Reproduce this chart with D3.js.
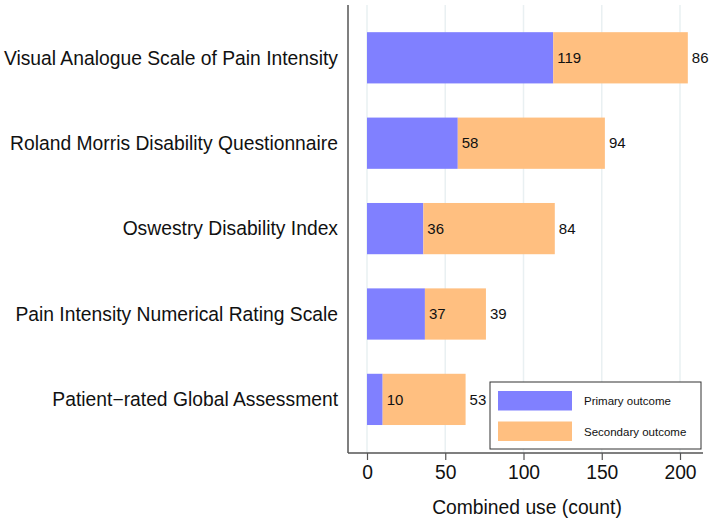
<!DOCTYPE html>
<html><head><meta charset="utf-8">
<script src="https://cdn.jsdelivr.net/npm/d3@7"></script>
<style>body{margin:0;background:#fff}svg{display:block}text{font-family:"Liberation Sans",Arial,sans-serif}</style>
</head><body><svg id="c" width="711" height="520"></svg>
<script>
const categories = ["Visual Analogue Scale of Pain Intensity","Roland Morris Disability Questionnaire","Oswestry Disability Index","Pain Intensity Numerical Rating Scale","Patient\u2212rated Global Assessment"];
const primary = [119,58,36,37,10];
const secondary = [86,94,84,39,53];
const xTicks = [0,50,100,150,200];
const seriesNames = ["Primary outcome","Secondary outcome"];
const colors = ["#8080ff","#ffbf80"];

const svg = d3.select("#c");
const x = d3.scaleLinear().domain([0,200]).range([367,680]);
const y = d3.scaleBand().domain(categories).range([15.1,442.1]).paddingInner(0.4).paddingOuter(0.2);
const pTop = 5, pBottom = 453, pLeft = 348, pRight = 703;

// gridlines
svg.append("g").selectAll("line").data(xTicks).join("line")
  .attr("x1",d=>x(d)).attr("x2",d=>x(d)).attr("y1",pTop).attr("y2",pBottom)
  .attr("stroke","#e9f0f2").attr("stroke-width",1.5);

// bars
const g = svg.append("g");
categories.forEach((c,i)=>{
  g.append("rect").attr("x",x(0)).attr("y",y(c)).attr("width",x(primary[i])-x(0)).attr("height",y.bandwidth()).attr("fill",colors[0]);
  g.append("rect").attr("x",x(primary[i])).attr("y",y(c)).attr("width",x(primary[i]+secondary[i])-x(primary[i])).attr("height",y.bandwidth()).attr("fill",colors[1]);
  g.append("text").attr("x",x(primary[i])+4).attr("y",y(c)+y.bandwidth()/2).attr("dy","0.35em").attr("font-size",15).attr("fill","#111").text(primary[i]);
  g.append("text").attr("x",x(primary[i]+secondary[i])+4).attr("y",y(c)+y.bandwidth()/2).attr("dy","0.35em").attr("font-size",15).attr("fill","#111").text(secondary[i]);
  g.append("text").attr("x",338).attr("y",y(c)+y.bandwidth()/2).attr("dy","0.35em").attr("text-anchor","end").attr("font-size",19.3).attr("fill","#111").text(c);
});

// axes lines
svg.append("line").attr("x1",pLeft).attr("x2",pLeft).attr("y1",pTop).attr("y2",pBottom).attr("stroke","#555").attr("stroke-width",1.5);
svg.append("line").attr("x1",pLeft).attr("x2",pRight).attr("y1",pBottom).attr("y2",pBottom).attr("stroke","#555").attr("stroke-width",1.5);
const xa = svg.append("g").attr("transform",`translate(0,${pBottom})`).call(d3.axisBottom(x).tickValues(xTicks).tickSize(7).tickPadding(5));
xa.select(".domain").remove();
xa.selectAll(".tick line").attr("stroke","#555").attr("stroke-width",1.2);
xa.selectAll(".tick text").attr("font-size",19.3).attr("fill","#111").attr("font-family","Liberation Sans,Arial,sans-serif");
svg.append("text").attr("x",527).attr("y",514).attr("text-anchor","middle").attr("font-size",19.3).attr("fill","#111").text("Combined use (count)");

// legend
const lg = svg.append("g");
lg.append("rect").attr("x",490).attr("y",382).attr("width",211).attr("height",67).attr("fill","#fff").attr("stroke","#333").attr("stroke-width",1);
seriesNames.forEach((s,i)=>{
  lg.append("rect").attr("x",498).attr("y",391+i*30.5).attr("width",74).attr("height",19.5).attr("fill",colors[i]);
  lg.append("text").attr("x",584).attr("y",401+i*30.5).attr("dy","0.35em").attr("font-size",11.5).attr("fill","#111").text(s);
});
</script></body></html>
